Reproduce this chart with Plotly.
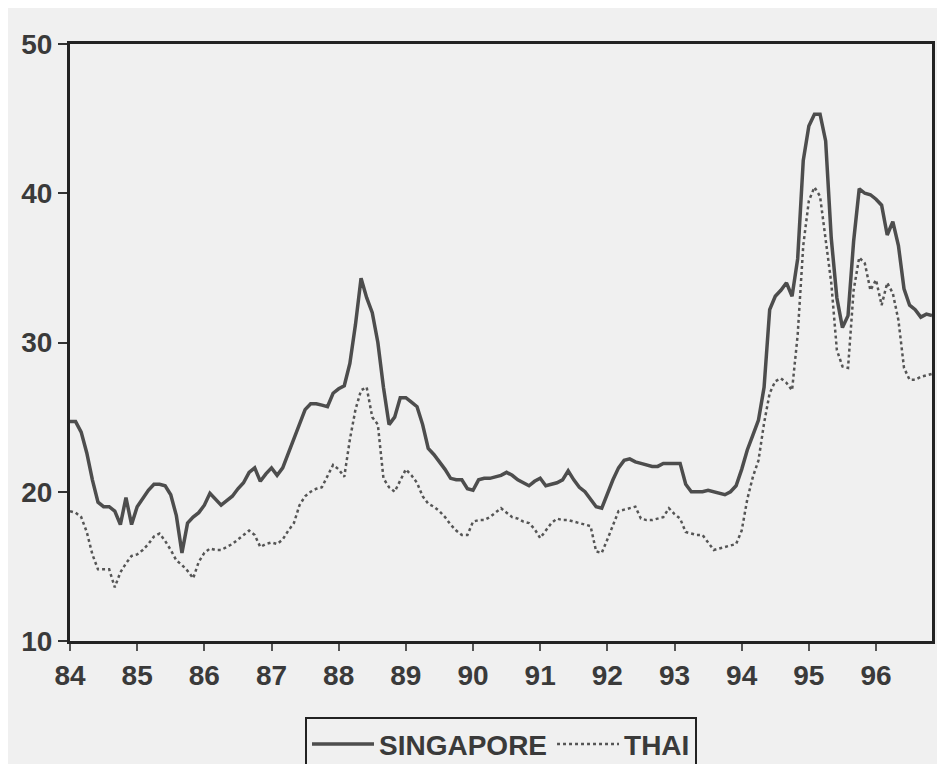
import plotly.graph_objects as go

# Monthly observations, 1984:01 .. 1996:11
start_year = 84
singapore = [
    24.7, 24.7, 24.0, 22.6, 20.8, 19.3, 19.0, 19.0, 18.7, 17.8, 19.6, 17.8,  # 84
    19.0, 19.6, 20.1, 20.5, 20.5, 20.4, 19.8, 18.4, 15.9, 17.9, 18.3, 18.6,  # 85
    19.1, 19.9, 19.5, 19.1, 19.4, 19.7, 20.2, 20.6, 21.3, 21.6, 20.7, 21.2,  # 86
    21.6, 21.1, 21.6, 22.6, 23.5, 24.6, 25.5, 25.9, 25.9, 25.8, 25.7, 26.6,  # 87
    26.9, 27.1, 28.6, 31.2, 34.3, 33.0, 32.0, 30.0, 27.0, 24.5, 25.0, 26.3,  # 88
    26.3, 26.0, 25.7, 24.5, 22.9, 22.5, 22.0, 21.5, 20.9, 20.8, 20.8, 20.2,  # 89
    20.1, 20.8, 20.9, 20.9, 21.0, 21.1, 21.3, 21.1, 20.8, 20.6, 20.4, 20.7,  # 90
    20.9, 20.4, 20.5, 20.6, 20.8, 21.4, 20.8, 20.3, 20.0, 19.5, 19.0, 18.9,  # 91
    19.9, 20.8, 21.6, 22.1, 22.2, 22.0, 21.9, 21.8, 21.7, 21.7, 21.9, 21.9,  # 92
    21.9, 21.9, 20.5, 20.0, 20.0, 20.0, 20.1, 20.0, 19.9, 19.8, 20.0, 20.4,  # 93
    21.5, 22.8, 23.8, 24.8, 27.0, 32.2, 33.1, 33.5, 34.0, 33.1, 35.6, 42.2,  # 94
    44.5, 45.3, 45.3, 43.5, 37.0, 33.0, 31.0, 31.8, 36.8, 40.3, 40.0, 39.9,  # 95
    39.6, 39.2, 37.2, 38.1, 36.5, 33.6, 32.5, 32.2, 31.7, 31.9, 31.8,        # 96
]
thai = [
    18.7, 18.6, 18.3, 17.3, 15.8, 14.8, 14.8, 14.8, 13.6, 14.6, 15.2, 15.7,  # 84
    15.8, 16.1, 16.5, 17.0, 17.2, 16.7, 16.1, 15.4, 15.1, 14.7, 14.2, 15.3,  # 85
    15.9, 16.2, 16.1, 16.1, 16.3, 16.5, 16.8, 17.1, 17.4, 17.1, 16.3, 16.5,  # 86
    16.6, 16.5, 16.8, 17.4, 17.9, 19.1, 19.7, 20.0, 20.2, 20.3, 21.0, 21.8,  # 87
    21.5, 21.0, 23.5, 25.5, 26.8, 27.0, 25.0, 24.5, 20.9, 20.3, 20.0, 20.8,  # 88
    21.5, 21.1, 20.6, 19.7, 19.2, 19.0, 18.7, 18.3, 17.8, 17.4, 17.1, 17.1,  # 89
    18.0, 18.1, 18.1, 18.3, 18.6, 18.9, 18.6, 18.3, 18.2, 18.0, 17.9, 17.5,  # 90
    16.9, 17.4, 17.9, 18.2, 18.1, 18.1, 18.0, 17.9, 17.8, 17.7, 16.0, 15.9,  # 91
    16.8, 17.8, 18.7, 18.8, 18.9, 19.0, 18.2, 18.1, 18.1, 18.2, 18.3, 18.9,  # 92
    18.5, 18.2, 17.3, 17.2, 17.1, 17.1, 16.6, 16.1, 16.2, 16.3, 16.4, 16.5,  # 93
    17.4, 19.5, 21.0, 22.1, 24.6, 26.6, 27.4, 27.6, 27.3, 26.8, 30.5, 36.5,  # 94
    39.5, 40.4, 39.8, 37.0, 34.0, 29.5, 28.4, 28.3, 33.5, 35.7, 35.3, 33.5,  # 95
    34.2, 32.5, 34.0, 33.3, 31.5, 28.3, 27.5, 27.5, 27.7, 27.8, 27.9,        # 96
]
year_ticks = list(range(84, 97))
year_labels = [str(y) for y in year_ticks]
y_ticks = [10, 20, 30, 40, 50]

x = [start_year + i / 12 for i in range(len(singapore))]

fig = go.Figure()
fig.add_trace(go.Scatter(x=x, y=singapore, mode="lines", name="SINGAPORE",
                         line=dict(color="#4d4d4d", width=3.5)))
fig.add_trace(go.Scatter(x=x, y=thai, mode="lines", name="THAI",
                         line=dict(color="#555555", width=2.5, dash="dot")))

tickfont = dict(family="Arial, Liberation Sans", size=28, color="#3a3a3a", weight="bold")

fig.update_layout(
    width=937, height=756,
    margin=dict(l=62, r=13, t=36, b=123, autoexpand=False),
    paper_bgcolor="#f0f0f0",
    plot_bgcolor="#f0f0f0",
    showlegend=True,
    legend=dict(
        orientation="h", x=0.5, xanchor="center", y=-0.128, yanchor="top",
        font=dict(family="Arial, Liberation Sans", size=28, color="#3a3a3a", weight="bold"),
        bordercolor="#222222", borderwidth=2, bgcolor="#f0f0f0",
        itemwidth=62,
    ),
    xaxis=dict(
        range=[x[0], x[-1]], tickvals=year_ticks, ticktext=year_labels,
        showgrid=False, zeroline=False, showline=True, linecolor="#222222", linewidth=3,
        mirror=True, ticks="outside", ticklen=7, tickwidth=2, tickcolor="#555555",
        tickfont=tickfont,
    ),
    yaxis=dict(
        range=[10, 50], tickvals=y_ticks,
        showgrid=False, zeroline=False, showline=True, linecolor="#222222", linewidth=3,
        mirror=True, ticks="outside", ticklen=9, tickwidth=2, tickcolor="#333333",
        tickfont=tickfont,
    ),
)

fig.write_html("out.html")
